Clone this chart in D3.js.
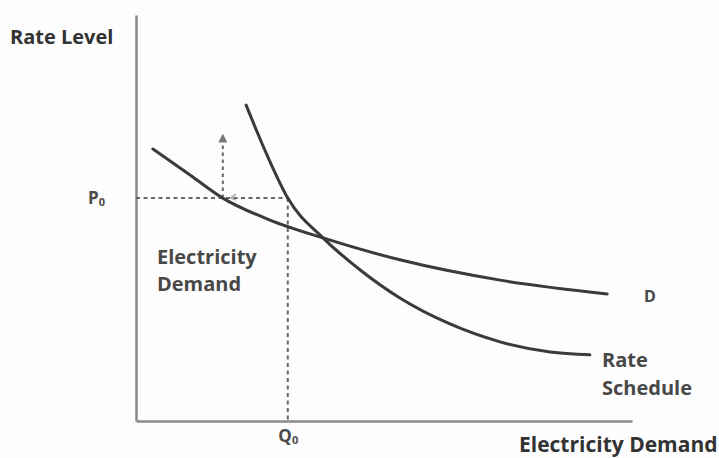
<!DOCTYPE html>
<html><head><meta charset="utf-8">
<script src="https://cdn.jsdelivr.net/npm/d3@7"></script>
<style>
html,body{margin:0;padding:0;background:#fdfdfd;}
svg{display:block;font-family:"Open Sans",Lato,sans-serif;}
</style></head>
<body><svg id="c" width="719" height="458"></svg>
<script>
// Data (abstract units 0..100)
const demandX = [3.4, 10.9, 17.5, 27.0, 37.7, 53.2, 73.4, 95.0];
const demandY = [67.0, 60.6, 54.9, 49.5, 45.1, 39.7, 34.7, 31.3];
const rateX = [22.2, 26.6, 30.6, 37.7, 45.2, 53.2, 63.3, 73.4, 83.5, 91.5];
const rateY = [77.8, 65.0, 54.9, 45.1, 37.2, 30.3, 23.9, 19.5, 17.0, 16.3];
const P0 = 54.9, Q0 = 30.6;
const arrowX = 17.5, arrowTop = 69.7;
const yTicks = [{v: P0, main: "P", sub: "0"}];
const xTicks = [{v: Q0, main: "Q", sub: "0"}];

const svg = d3.select("#c");
const x = d3.scaleLinear().domain([0, 100]).range([136, 632]);
const y = d3.scaleLinear().domain([0, 100]).range([421, 15]);

const axisColor = "#8a8a8a";
const yAxis = d3.axisLeft(y).tickValues(yTicks.map(d => d.v)).tickSize(0).tickPadding(31).tickFormat(() => "");
const xAxis = d3.axisBottom(x).tickValues(xTicks.map(d => d.v)).tickSize(0).tickPadding(9).tickFormat(() => "");
const gy = svg.append("g").attr("transform", "translate(136,0)").call(yAxis);
const gx = svg.append("g").attr("transform", "translate(0,421)").call(xAxis);
[gy, gx].forEach(g => g.select(".domain").attr("stroke", axisColor).attr("stroke-width", 2.5));
function sub(sel, list) {
  sel.selectAll(".tick text").data(list).each(function(d) {
    const t = d3.select(this).attr("font-size", 17).attr("font-weight", 700).attr("fill", "#4a4a4a")
      .attr("font-family", "'Open Sans', sans-serif");
    t.append("tspan").text(d.main);
    t.append("tspan").text(d.sub).attr("font-size", 11).attr("dy", "0.2em");
  });
}
sub(gy, yTicks); gy.selectAll(".tick text").attr("dy", "0.3em");
sub(gx, xTicks);

// dashed guides
const dash = "4,3.5";
svg.append("line").attr("x1", x(0)).attr("x2", x(Q0)).attr("y1", y(P0)).attr("y2", y(P0))
  .attr("stroke", "#666").attr("stroke-width", 2).attr("stroke-dasharray", dash);
svg.append("line").attr("x1", x(Q0)).attr("x2", x(Q0)).attr("y1", y(P0)).attr("y2", y(0))
  .attr("stroke", "#666").attr("stroke-width", 2).attr("stroke-dasharray", dash);

// arrow
svg.append("defs").append("marker").attr("id", "ah").attr("viewBox", "0 0 10 10")
  .attr("refX", 5).attr("refY", 5).attr("markerWidth", 4.5).attr("markerHeight", 4.5).attr("orient", "auto")
  .append("path").attr("d", "M0,0 L10,5 L0,10 Z").attr("fill", "#777");
svg.append("line").attr("x1", x(arrowX)).attr("x2", x(arrowX)).attr("y1", y(P0)).attr("y2", y(arrowTop))
  .attr("stroke", "#666").attr("stroke-width", 2).attr("stroke-dasharray", "3.5,3.5").attr("marker-end", "url(#ah)");
svg.append("path").attr("d", `M${x(arrowX)+13},${y(P0)-4} L${x(arrowX)+8},${y(P0)} L${x(arrowX)+13},${y(P0)+2}`)
  .attr("fill", "none").attr("stroke", "#aaa").attr("stroke-width", 1.5);

// curves
const line = d3.line().x(d => x(d[0])).y(d => y(d[1])).curve(d3.curveMonotoneX);
svg.append("path").datum(demandX.map((v, i) => [v, demandY[i]])).attr("d", line)
  .attr("fill", "none").attr("stroke", "#3a3a3a").attr("stroke-width", 3).attr("stroke-linecap", "round");
svg.append("path").datum(rateX.map((v, i) => [v, rateY[i]])).attr("d", line)
  .attr("fill", "none").attr("stroke", "#3a3a3a").attr("stroke-width", 3).attr("stroke-linecap", "round");

// labels
const lab = (tx, ty, s, size, fill) => svg.append("text").attr("x", tx).attr("y", ty).text(s)
  .attr("font-size", size).attr("font-weight", 700).attr("fill", fill);
lab(10, 44, "Rate Level", 20, "#333");
lab(519, 452, "Electricity Demand", 21, "#333");
lab(157, 264, "Electricity", 20, "#484848");
lab(157, 291, "Demand", 20, "#484848");
lab(644, 302, "D", 16, "#444");
lab(602, 367, "Rate", 20, "#484848");
lab(602, 395, "Schedule", 20, "#484848");
</script></body></html>
